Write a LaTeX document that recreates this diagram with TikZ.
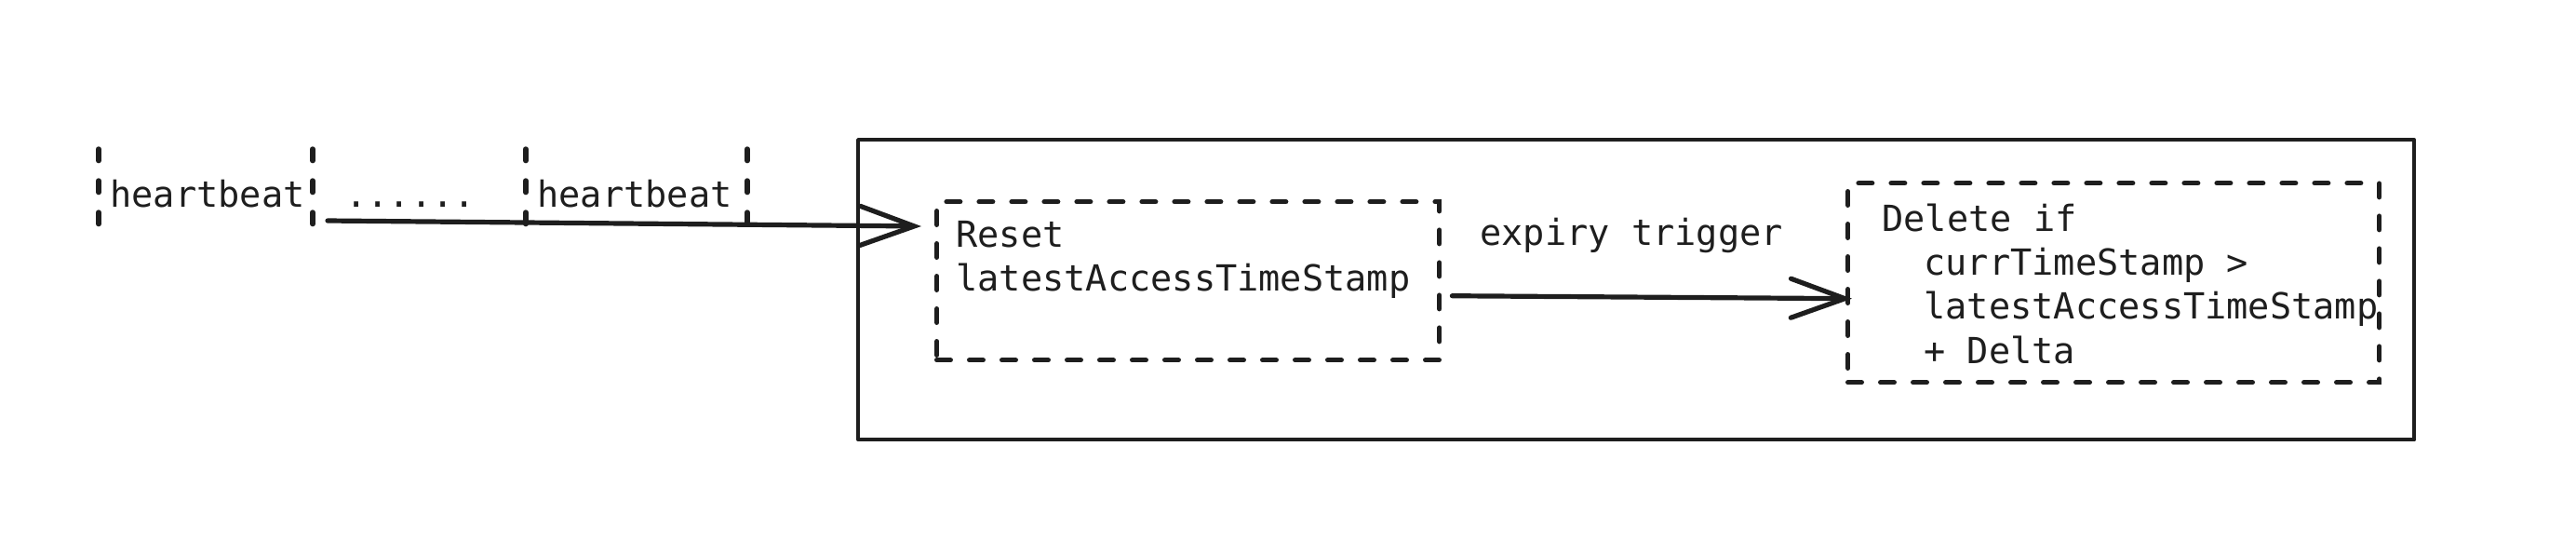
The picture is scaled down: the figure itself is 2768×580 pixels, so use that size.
\documentclass[tikz,border=0pt]{standalone}
\usepackage{fontspec}
\setmonofont{DejaVu Sans Mono}
\usetikzlibrary{arrows.meta}
\definecolor{ink}{HTML}{1E1E1E}
\begin{document}
\begin{tikzpicture}[x=0.5pt,y=-0.5pt,
  txt/.style={font=\ttfamily\fontsize{19.3pt}{23.5pt}\selectfont, text=ink, inner sep=0pt, anchor=base west},
  dashbox/.style={draw=ink, line width=2.7pt, dash pattern=on 7.3pt off 10.2pt, line cap=round, rectangle, inner sep=0pt, anchor=north west},
  tickline/.style={draw=ink, line width=2.7pt, dash pattern=on 6.3pt off 10.7pt, line cap=round},
  frame/.style={draw=ink, line width=2.2pt, line join=round, rectangle, inner sep=0pt, anchor=north west},
  conn/.style={draw=ink, line width=2.6pt, line cap=round, -{Straight Barb[length=29pt,width=21pt,line cap=round]}}
]
\useasboundingbox (0,0) rectangle (2768,580);

% outer frame
\node[frame, minimum width=836pt, minimum height=161pt] (outer) at (920,148) {};
% inner dashed boxes
\node[dashbox, minimum width=270pt, minimum height=85pt] (reset) at (1004,214) {};
\node[dashbox, minimum width=285.5pt, minimum height=107pt] (del) at (1983,194) {};

% texts
\node[txt] (hb1) at (118,222) {heartbeat};
\node[txt] (dots) at (371,222) {......};
\node[txt] (hb2) at (577,222) {heartbeat};
\node[txt] (resetA) at (1027,265) {Reset};
\node[txt] (resetB) at (1027,312) {latestAccessTimeStamp};
\node[txt] (exp) at (1590,263) {expiry trigger};
\node[txt] (delA) at (2022,248) {Delete if};
\node[txt] (delB) at (2067,295) {currTimeStamp >};
\node[txt] (delC) at (2067,342) {latestAccessTimeStamp};
\node[txt] (delD) at (2067,390) {+ Delta};

% heartbeat arrow
\coordinate (hbstart) at (352,237);
\coordinate (hbtip) at (990,243);
\draw[conn] (hbstart) -- (hbtip);

% expiry arrow
\draw[conn] ([xshift=5.5pt,yshift=-8pt]reset.east) -- ([xshift=3.5pt,yshift=-8.5pt]del.west);

% heartbeat ticks
\foreach \x in {106,336,565,803}
  \draw[tickline] (\x,160) -- (\x,249);
\end{tikzpicture}
\end{document}
